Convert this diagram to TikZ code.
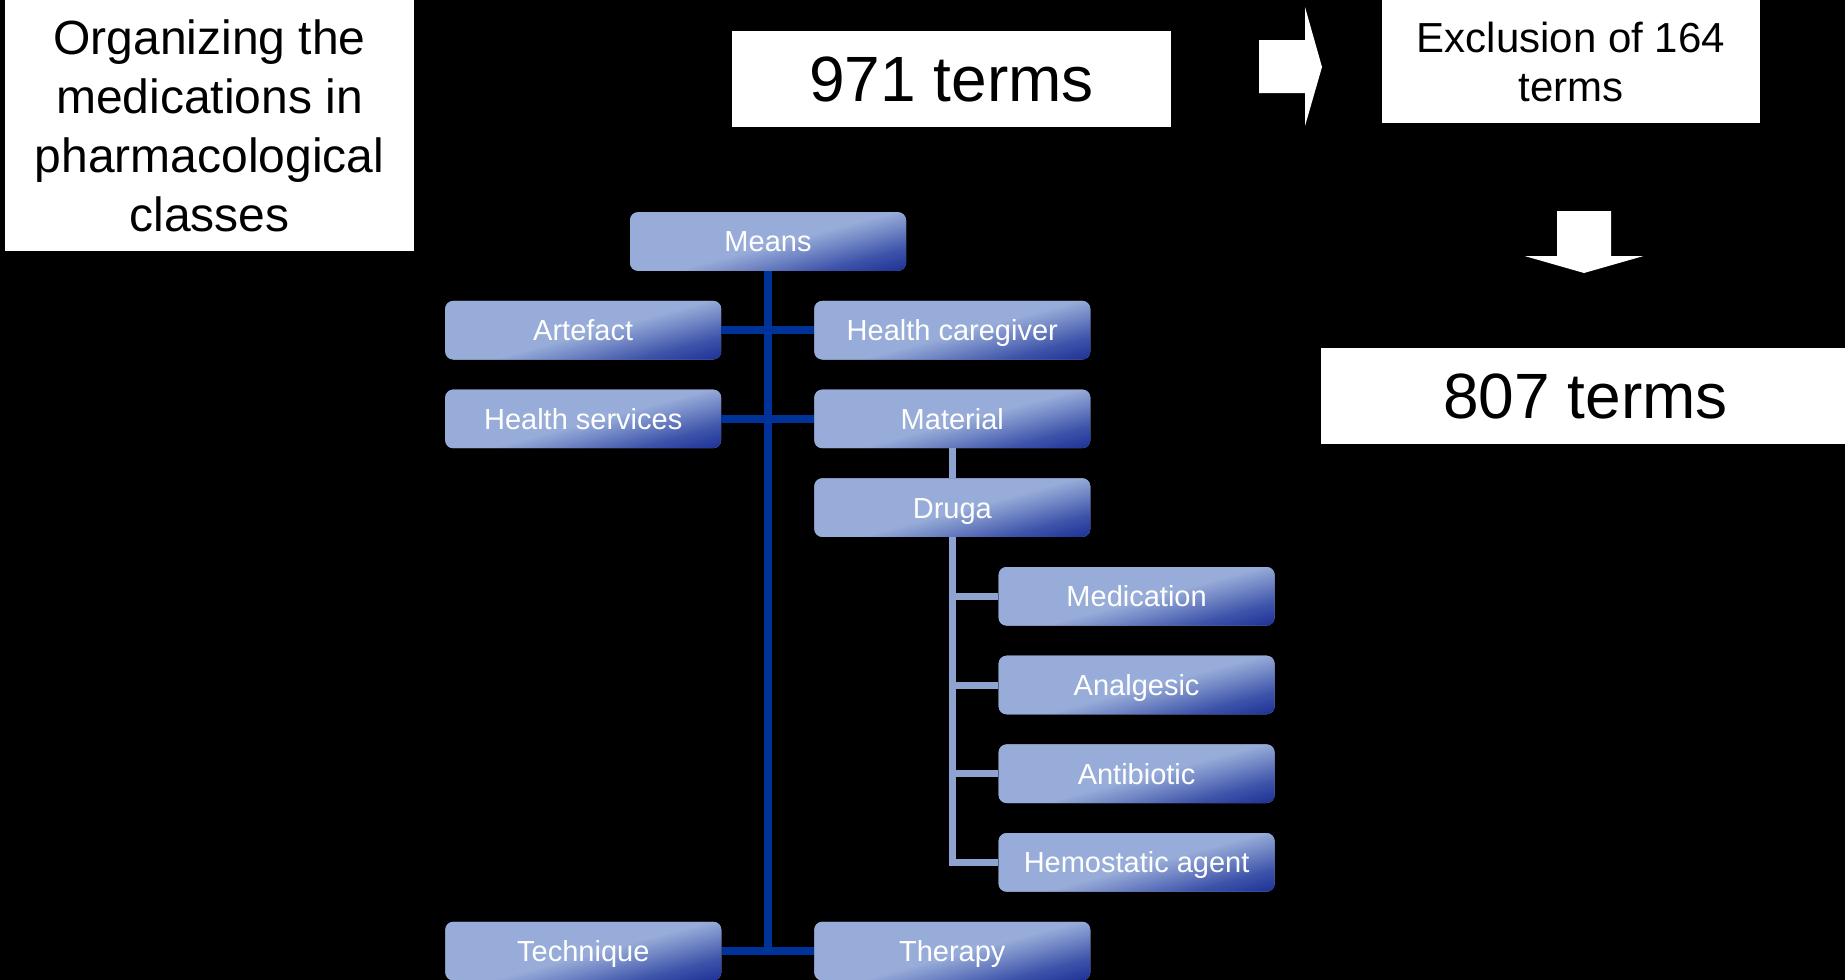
\documentclass[tikz,border=0pt]{standalone}
\usepackage{fontspec}
\setmainfont{Liberation Sans}
\usepackage{xcolor}
\usepackage{tikz}
\usetikzlibrary{positioning}

\definecolor{termlight}{RGB}{151,172,216}
\definecolor{termsoft}{RGB}{116,137,198}
\definecolor{termdeep}{RGB}{62,84,170}
\definecolor{termdark}{RGB}{30,50,150}
\definecolor{trunkblue}{RGB}{0,51,153}
\definecolor{branchblue}{RGB}{143,163,209}
\pgfdeclareverticalshading{termshade}{100bp}{color(0bp)=(termdark); color(39.5bp)=(termdark); color(43bp)=(termdeep); color(46.7bp)=(termsoft); color(49.3bp)=(termlight); color(100bp)=(termlight)}

\begin{document}
\begin{tikzpicture}[x=1pt, y=1pt, node distance=88.7pt,
    whitebox/.style={rectangle, fill=white, text=black, align=center, inner sep=0pt},
    term/.style={rectangle, rounded corners=8pt, fill=termlight, text=white, minimum width=276pt, minimum height=58.6pt, inner sep=0pt, text height=20.8pt, text depth=0pt, font=\fontsize{29}{34}\selectfont,
        path picture={\shade[shading=termshade, shading angle=15] ([xshift=-150pt, yshift=-150pt]path picture bounding box.center) rectangle ([xshift=150pt, yshift=150pt]path picture bounding box.center);}},
    trunk/.style={draw=trunkblue, line width=8.5pt},
    branch/.style={draw=branchblue, line width=7pt},
    blockarrow/.style={fill=white}]

    \fill[black] (0,0) rectangle (1845,-980);
    \useasboundingbox (0,0) rectangle (1845,-980);

    \node[whitebox, minimum width=409pt, minimum height=251pt, font=\fontsize{48}{59}\selectfont] (organize) at (209.5,-125.5) {Organizing the\\medications in\\pharmacological\\classes};
    \node[whitebox, minimum width=439pt, minimum height=96pt, font=\fontsize{64}{72}\selectfont] (allterms) at (951.5,-79) {971 terms};
    \node[whitebox, minimum width=378pt, minimum height=123pt, font=\fontsize{42}{49}\selectfont] (exclusion) at (1571,-61.5) {Exclusion of 164\\terms};
    \node[whitebox, minimum width=524pt, minimum height=96pt, font=\fontsize{64}{72}\selectfont] (kept) at (1583,-396) {\hspace*{5pt}807 terms};

    \fill[blockarrow] (1259,-40) -- (1305,-40) -- (1305,-7) -- (1322,-67) -- (1305,-126) -- (1305,-93) -- (1259,-93) -- cycle;
    \fill[blockarrow] (1557,-211) -- (1611,-211) -- (1611,-256) -- (1643.5,-256) -- (1584,-273) -- (1524.5,-256) -- (1557,-256) -- cycle;

    \node[term] (means) at (768,-241.5) {Means};
    \node[term, below of=means, xshift=184.3pt] (caregiver) {Health caregiver};
    \node[term, below of=means, xshift=-184.8pt] (artefact) {Artefact};
    \node[term, below of=caregiver] (material) {Material};
    \node[term, below of=artefact] (services) {Health services};
    \node[term, below of=material] (druga) {Druga};
    \node[term, below of=druga, xshift=184.3pt] (medication) {Medication};
    \node[term, below of=medication] (analgesic) {Analgesic};
    \node[term, below of=analgesic] (antibiotic) {Antibiotic};
    \node[term, below of=antibiotic] (hemostatic) {Hemostatic agent};
    \node[term, below of=hemostatic, xshift=-184.3pt] (therapy) {Therapy};
    \node[term, left of=therapy, node distance=369pt] (technique) {Technique};

    \draw[trunk] (means.south) -- (means.south |- therapy.west);
    \draw[trunk] (artefact) -- (caregiver);
    \draw[trunk] (services) -- (material);
    \draw[trunk] (technique) -- (therapy);
    \draw[branch] (material) -- (druga);
    \foreach \sub in {medication,analgesic,antibiotic,hemostatic}
        \draw[branch] (druga.south) |- (\sub.west);
\end{tikzpicture}
\end{document}
